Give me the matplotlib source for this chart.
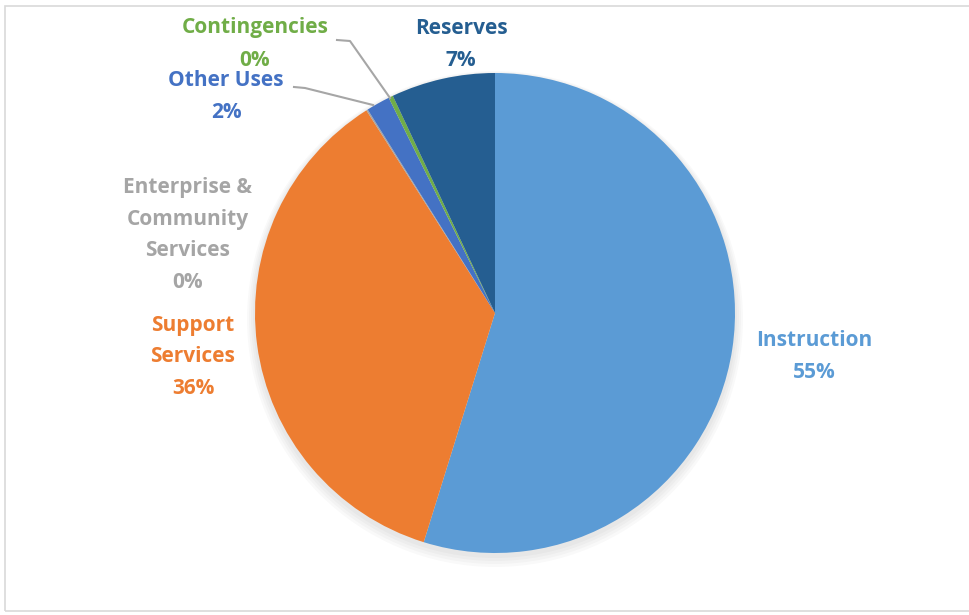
import matplotlib
matplotlib.use("Agg")
import matplotlib.pyplot as plt
from matplotlib.patches import Rectangle

categories = ["Instruction", "Support Services", "Enterprise &\nCommunity\nServices",
              "Other Uses", "Contingencies", "Reserves"]
values = [54.8, 36.2, 0.1, 1.6, 0.3, 7.0]
colors = ["#5B9BD5", "#ED7D31", "#A5A5A5", "#4472C4", "#70AD47", "#255E91"]
label_colors = ["#5B9BD5", "#ED7D31", "#A5A5A5", "#4472C4", "#70AD47", "#255E91"]
label_text = ["Instruction", "Support\nServices", "Enterprise &\nCommunity\nServices",
              "Other Uses", "Contingencies", "Reserves"]

W, H = 969, 615
fig = plt.figure(figsize=(W / 100, H / 100), dpi=100)
ax = fig.add_axes([0, 0, 1, 1])

cx, cy, r = 495, H - 313, 240

# soft shadow
for i, a in enumerate([0.025, 0.025, 0.025, 0.025]):
    ax.add_patch(plt.Circle((cx, cy - 3 - i), r + 2 + i * 2, color="black", alpha=a, lw=0, zorder=1))

wedges, _ = ax.pie(values, colors=colors, startangle=90, counterclock=False,
                   center=(cx, cy), radius=r, wedgeprops=dict(linewidth=0))
for w in wedges:
    w.set_zorder(2)
ax.set_xlim(0, W)
ax.set_ylim(0, H)
ax.set_aspect("equal")
ax.axis("off")

# frame
ax.add_patch(Rectangle((5, 4), W + 10, H - 10, fill=False, edgecolor="#D9D9D9", lw=1.2))

total = sum(values)
pct = [f"{round(v / total * 100):.0f}%" for v in values]

positions = {  # first line center (image y), center x
    0: (814, 340),
    1: (193, 325),
    2: (188, 187),
    3: (226, 80),
    4: (255, 28),
    5: (461, 28),
}
pitch = 32
fs = 15
for i, (x, y0) in positions.items():
    lines = label_text[i].split("\n") + [pct[i]]
    for j, ln in enumerate(lines):
        ax.text(x, H - (y0 + j * pitch), ln, ha="center", va="center", fontsize=fs,
                fontweight="bold", color=label_colors[i], family="Open Sans", zorder=5)

# leader lines
lc = "#A6A6A6"
ax.plot([337, 350, 390], [H - 40, H - 41, H - 98], color=lc, lw=1.5, zorder=4)
ax.plot([294, 305, 373], [H - 87, H - 88, H - 105], color=lc, lw=1.5, zorder=4)

fig.savefig("out.png", dpi=100)
